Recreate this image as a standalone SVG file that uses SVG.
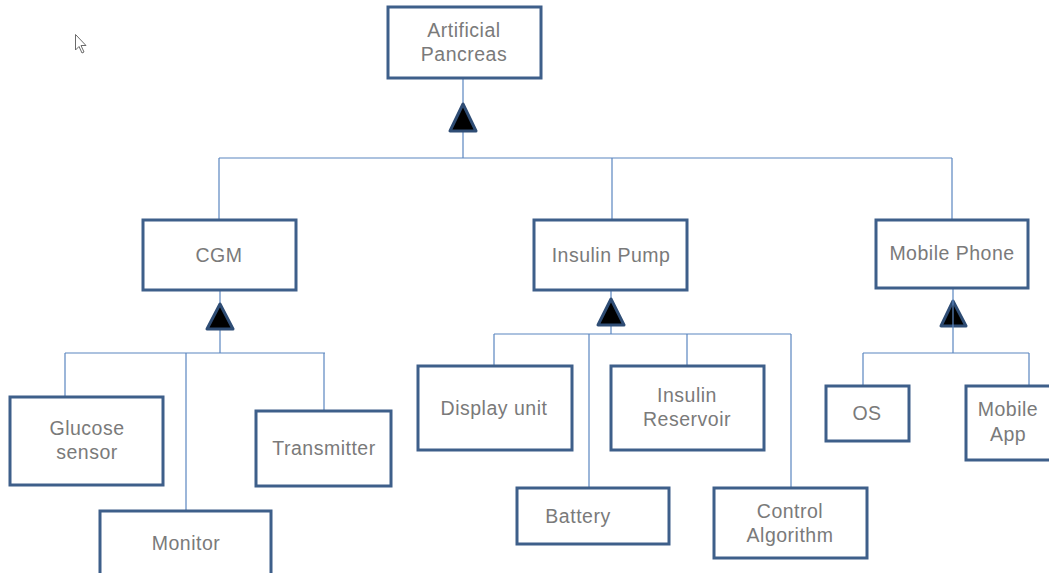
<svg xmlns="http://www.w3.org/2000/svg" width="1049" height="573" viewBox="0 0 1049 573">
  <style>
    .box { fill: #ffffff; stroke: #3e5f8a; stroke-width: 3; }
    .lbl { font-family: "Liberation Sans", Arial, sans-serif; font-size: 19.5px; letter-spacing: 0.5px; fill: #7a7a7a; text-anchor: middle; }
    .wire { fill: none; stroke: #5b86c0; stroke-width: 1.2; }
    .tri { fill: #000000; stroke: #2f4d75; stroke-width: 3; stroke-linejoin: round; }
  </style>
  <rect width="1049" height="573" fill="#ffffff"/>

  <!-- pointer -->
  <path d="M75.5,34.5 L75.5,50 L79,46.5 L82,53 L84,52 L81,45.5 L86,45.5 Z" fill="#ffffff" stroke="#6a6a6a" stroke-width="1"/>

  <g id="connectors">
    <!-- Artificial Pancreas -> subsystems -->
    <path class="wire" d="M463,78 V158 M219,158 H952 M219,158 V220 M612,158 V220 M952,158 V220"/>
    <polygon class="tri" points="463,104 450,131 476,131"/>
    <!-- CGM -> parts -->
    <path class="wire" d="M220,290 V353 M65,353 H325 M65,353 V397 M186,353 V511 M324,353 V411"/>
    <polygon class="tri" points="220,304 207,329 233,329"/>
    <!-- Insulin Pump -> parts -->
    <path class="wire" d="M611,290 V334 M494,334 H791 M494,334 V366 M589,334 V488 M687,334 V366 M791,334 V488"/>
    <polygon class="tri" points="611,299 598,325 624,325"/>
    <!-- Mobile Phone -> parts -->
    <polygon class="tri" points="953,301 941,326 966,326"/>
    <path class="wire" d="M953,288 V353 M863,353 H1029 M863,353 V386 M1029,353 V386"/>
  </g>

  <g id="artificial-pancreas">
    <rect class="box" x="388" y="7" width="153" height="71"/>
    <text class="lbl" x="464" y="37">Artificial</text>
    <text class="lbl" x="464" y="61">Pancreas</text>
  </g>

  <g id="cgm">
    <rect class="box" x="143" y="220" width="153" height="70"/>
    <text class="lbl" x="219" y="262">CGM</text>
  </g>

  <g id="insulin-pump">
    <rect class="box" x="534" y="220" width="153" height="70"/>
    <text class="lbl" x="611" y="262">Insulin Pump</text>
  </g>

  <g id="mobile-phone">
    <rect class="box" x="876" y="220" width="152" height="68"/>
    <text class="lbl" x="952" y="260">Mobile Phone</text>
  </g>

  <g id="glucose-sensor">
    <rect class="box" x="10" y="397" width="153" height="88"/>
    <text class="lbl" x="87" y="435">Glucose</text>
    <text class="lbl" x="87" y="459">sensor</text>
  </g>

  <g id="transmitter">
    <rect class="box" x="256" y="411" width="135" height="75"/>
    <text class="lbl" x="324" y="455">Transmitter</text>
  </g>

  <g id="monitor">
    <rect class="box" x="100" y="511" width="171" height="72"/>
    <text class="lbl" x="186" y="550">Monitor</text>
  </g>

  <g id="display-unit">
    <rect class="box" x="418" y="366" width="154" height="84"/>
    <text class="lbl" x="494" y="415">Display unit</text>
  </g>

  <g id="insulin-reservoir">
    <rect class="box" x="611" y="366" width="153" height="84"/>
    <text class="lbl" x="687" y="402">Insulin</text>
    <text class="lbl" x="687" y="426">Reservoir</text>
  </g>

  <g id="battery">
    <rect class="box" x="517" y="488" width="152" height="56"/>
    <text class="lbl" x="578" y="523">Battery</text>
  </g>

  <g id="control-algorithm">
    <rect class="box" x="714" y="488" width="153" height="70"/>
    <text class="lbl" x="790" y="518">Control</text>
    <text class="lbl" x="790" y="542">Algorithm</text>
  </g>

  <g id="os">
    <rect class="box" x="826" y="386" width="83" height="55"/>
    <text class="lbl" x="867" y="420">OS</text>
  </g>

  <g id="mobile-app">
    <rect class="box" x="966" y="386" width="95" height="74"/>
    <text class="lbl" x="1008" y="416">Mobile</text>
    <text class="lbl" x="1008" y="441">App</text>
  </g>
</svg>
